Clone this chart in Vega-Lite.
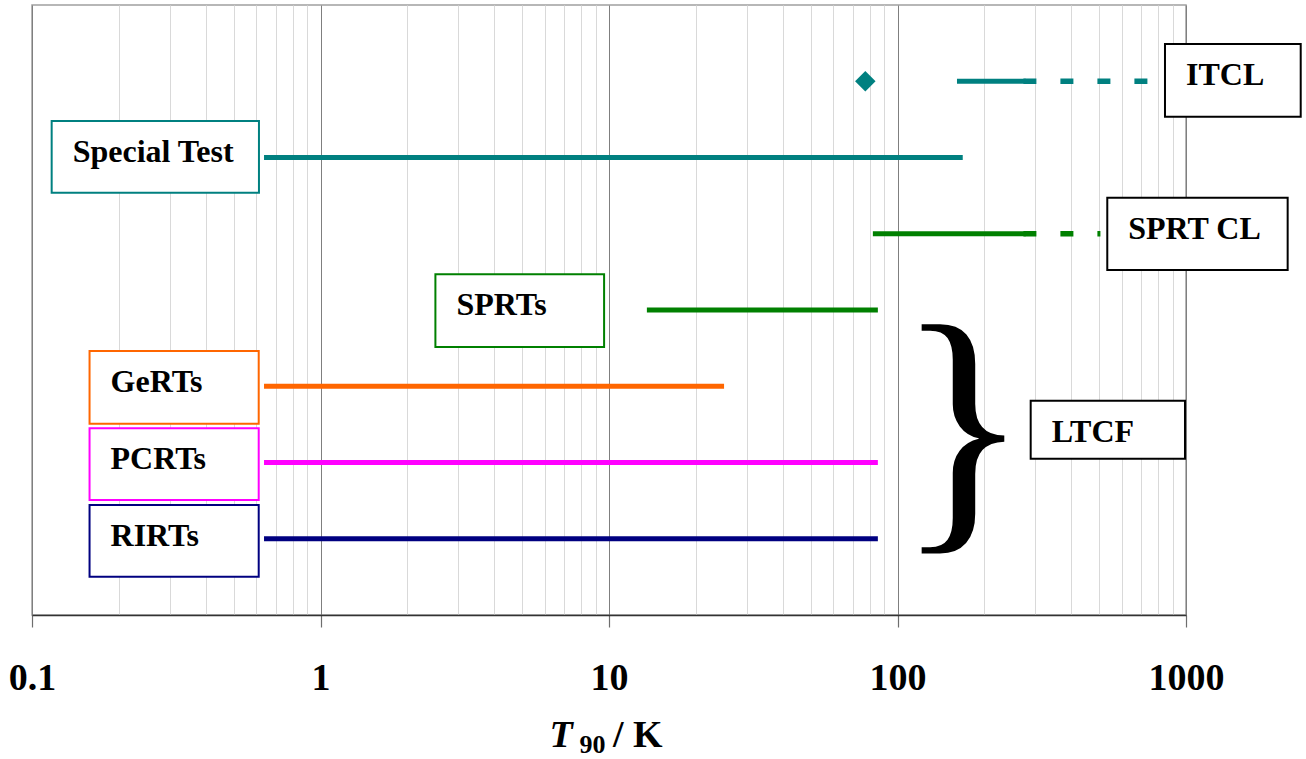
{
  "$schema": "https://vega.github.io/schema/vega-lite/v6.json",
  "width": 1154,
  "height": 610,
  "autosize": "none",
  "padding": {"left": 32, "top": 5, "right": 120, "bottom": 144},
  "background": "white",
  "config": {
    "view": {"stroke": "#a0a0a0", "strokeWidth": 1.5},
    "font": "Liberation Serif"
  },
  "datasets": {
    "spans": [
      {"series": "ITCL", "kind": "solid", "T": 164, "level": 7},
      {"series": "ITCL", "kind": "solid", "T": 234.3156, "level": 7},
      {"series": "ITCL", "kind": "solid", "T": 273.16, "level": 7},
      {"series": "ITCL", "kind": "dashed", "T": 273.16, "level": 7},
      {"series": "ITCL", "kind": "dashed", "T": 933.473, "level": 7},
      {"series": "Special Test", "kind": "solid", "T": 0.65, "level": 6},
      {"series": "Special Test", "kind": "solid", "T": 1.4, "level": 6},
      {"series": "Special Test", "kind": "solid", "T": 4.2, "level": 6},
      {"series": "Special Test", "kind": "solid", "T": 5, "level": 6},
      {"series": "Special Test", "kind": "solid", "T": 13.8033, "level": 6},
      {"series": "Special Test", "kind": "solid", "T": 20.27, "level": 6},
      {"series": "Special Test", "kind": "solid", "T": 24.5561, "level": 6},
      {"series": "Special Test", "kind": "solid", "T": 77.355, "level": 6},
      {"series": "Special Test", "kind": "solid", "T": 83.8058, "level": 6},
      {"series": "Special Test", "kind": "solid", "T": 165, "level": 6},
      {"series": "SPRT CL", "kind": "solid", "T": 83.8058, "level": 5},
      {"series": "SPRT CL", "kind": "solid", "T": 164, "level": 5},
      {"series": "SPRT CL", "kind": "solid", "T": 234.3156, "level": 5},
      {"series": "SPRT CL", "kind": "solid", "T": 273.16, "level": 5},
      {"series": "SPRT CL", "kind": "dashed", "T": 273.16, "level": 5},
      {"series": "SPRT CL", "kind": "dashed", "T": 505.078, "level": 5},
      {"series": "SPRTs", "kind": "solid", "T": 13.8033, "level": 4},
      {"series": "SPRTs", "kind": "solid", "T": 20.27, "level": 4},
      {"series": "SPRTs", "kind": "solid", "T": 24.5561, "level": 4},
      {"series": "SPRTs", "kind": "solid", "T": 77.355, "level": 4},
      {"series": "SPRTs", "kind": "solid", "T": 83.8058, "level": 4},
      {"series": "GeRTs", "kind": "solid", "T": 0.65, "level": 3},
      {"series": "GeRTs", "kind": "solid", "T": 1.4, "level": 3},
      {"series": "GeRTs", "kind": "solid", "T": 4.2, "level": 3},
      {"series": "GeRTs", "kind": "solid", "T": 5, "level": 3},
      {"series": "GeRTs", "kind": "solid", "T": 13.8033, "level": 3},
      {"series": "GeRTs", "kind": "solid", "T": 20.27, "level": 3},
      {"series": "GeRTs", "kind": "solid", "T": 24.5561, "level": 3},
      {"series": "PCRTs", "kind": "solid", "T": 0.65, "level": 2},
      {"series": "PCRTs", "kind": "solid", "T": 1.4, "level": 2},
      {"series": "PCRTs", "kind": "solid", "T": 4.2, "level": 2},
      {"series": "PCRTs", "kind": "solid", "T": 5, "level": 2},
      {"series": "PCRTs", "kind": "solid", "T": 13.8033, "level": 2},
      {"series": "PCRTs", "kind": "solid", "T": 20.27, "level": 2},
      {"series": "PCRTs", "kind": "solid", "T": 24.5561, "level": 2},
      {"series": "PCRTs", "kind": "solid", "T": 77.355, "level": 2},
      {"series": "PCRTs", "kind": "solid", "T": 83.8058, "level": 2},
      {"series": "RIRTs", "kind": "solid", "T": 0.65, "level": 1},
      {"series": "RIRTs", "kind": "solid", "T": 1.4, "level": 1},
      {"series": "RIRTs", "kind": "solid", "T": 4.2, "level": 1},
      {"series": "RIRTs", "kind": "solid", "T": 5, "level": 1},
      {"series": "RIRTs", "kind": "solid", "T": 13.8033, "level": 1},
      {"series": "RIRTs", "kind": "solid", "T": 20.27, "level": 1},
      {"series": "RIRTs", "kind": "solid", "T": 24.5561, "level": 1},
      {"series": "RIRTs", "kind": "solid", "T": 77.355, "level": 1},
      {"series": "RIRTs", "kind": "solid", "T": 83.8058, "level": 1}
    ],
    "points": [
      {"series": "ITCL", "T": 77.355, "level": 7}
    ],
    "frames": [
      {"label": "ITCL", "lo": 845.6, "hi": 2498, "top": 7.489, "bottom": 6.535},
      {"label": "Special Test", "lo": 0.117, "hi": 0.6119, "top": 6.479, "bottom": 5.538},
      {"label": "SPRT CL", "lo": 533.5, "hi": 2251, "top": 5.473, "bottom": 4.525},
      {"label": "SPRTs", "lo": 2.502, "hi": 9.616, "top": 4.468, "bottom": 3.515},
      {"label": "GeRTs", "lo": 0.1583, "hi": 0.6107, "top": 3.462, "bottom": 2.509},
      {"label": "PCRTs", "lo": 0.1583, "hi": 0.6107, "top": 2.449, "bottom": 1.508},
      {"label": "RIRTs", "lo": 0.1583, "hi": 0.6107, "top": 1.443, "bottom": 0.502},
      {"label": "LTCF", "lo": 289.5, "hi": 992, "top": 2.81, "bottom": 2.05}
    ],
    "brace": [
      {"glyph": "}", "T": 99.2, "level": 1.292}
    ],
    "axisTitle": [
      {"part": "T", "T": 10, "level": -1.73}
    ]
  },
  "layer": [
    {
      "data": {"name": "spans"},
      "transform": [{"filter": "datum.kind === 'solid'"}],
      "mark": {"type": "line", "strokeWidth": 5, "strokeCap": "square", "clip": false},
      "encoding": {
        "x": {
          "field": "T",
          "type": "quantitative",
          "scale": {"type": "log", "domain": [0.1, 1000], "nice": false},
          "axis": {
            "values": [0.1, 0.2, 0.3, 0.4, 0.5, 0.6, 0.7, 0.8, 0.9, 1, 2, 3, 4, 5, 6, 7, 8, 9, 10, 20, 30, 40, 50, 60, 70, 80, 90, 100, 200, 300, 400, 500, 600, 700, 800, 900, 1000],
            "format": "~g",
            "labelExpr": "indexof([0.1, 1, 10, 100, 1000], datum.value) >= 0 ? datum.label : ''",
            "title": null,
            "grid": true,
            "gridColor": {"condition": {"test": "indexof([0.1, 1, 10, 100, 1000], datum.value) >= 0", "value": "#7f7f7f"}, "value": "#d9d9d9"},
            "gridWidth": 1,
            "ticks": true,
            "tickSize": 12,
            "tickColor": "#6e6e6e",
            "tickWidth": 1.2,
            "tickOpacity": {"condition": {"test": "indexof([0.1, 1, 10, 100, 1000], datum.value) >= 0", "value": 1}, "value": 0},
            "domain": true,
            "domainColor": "#333333",
            "domainWidth": 1.5,
            "labelFont": "Liberation Serif",
            "labelFontWeight": "bold",
            "labelFontSize": 38,
            "labelColor": "black",
            "labelBaseline": "alphabetic",
            "labelPadding": 62,
            "labelFlush": false,
            "labelOverlap": false
          }
        },
        "y": {
          "field": "level",
          "type": "quantitative",
          "scale": {"domain": [0, 8], "nice": false, "zero": false},
          "axis": null
        },
        "color": {
          "field": "series",
          "type": "nominal",
          "scale": {
            "domain": ["ITCL", "Special Test", "SPRT CL", "SPRTs", "GeRTs", "PCRTs", "RIRTs"],
            "range": ["#008080", "#008080", "#008000", "#008000", "#ff6600", "#ff00ff", "#000080"]
          },
          "legend": null
        },
        "detail": {"field": "series"}
      }
    },
    {
      "data": {"name": "spans"},
      "transform": [{"filter": "datum.kind === 'dashed'"}],
      "mark": {"type": "line", "strokeWidth": 5.5, "strokeCap": "butt", "strokeDash": [13, 24], "clip": false},
      "encoding": {
        "x": {"field": "T", "type": "quantitative", "scale": {"type": "log", "domain": [0.1, 1000], "nice": false}},
        "y": {"field": "level", "type": "quantitative", "scale": {"domain": [0, 8], "nice": false, "zero": false}},
        "color": {"field": "series", "type": "nominal", "legend": null},
        "detail": {"field": "series"}
      }
    },
    {
      "data": {"name": "points"},
      "mark": {"type": "point", "shape": "diamond", "filled": true, "size": 420, "opacity": 1},
      "encoding": {
        "x": {"field": "T", "type": "quantitative", "scale": {"type": "log", "domain": [0.1, 1000], "nice": false}},
        "y": {"field": "level", "type": "quantitative", "scale": {"domain": [0, 8], "nice": false, "zero": false}},
        "color": {"field": "series", "type": "nominal", "legend": null}
      }
    },
    {
      "data": {"name": "frames"},
      "mark": {"type": "rect", "fill": "white", "strokeWidth": 2, "clip": false},
      "encoding": {
        "x": {"field": "lo", "type": "quantitative", "scale": {"type": "log", "domain": [0.1, 1000], "nice": false}},
        "x2": {"field": "hi"},
        "y": {"field": "top", "type": "quantitative", "scale": {"domain": [0, 8], "nice": false, "zero": false}},
        "y2": {"field": "bottom"},
        "stroke": {
          "field": "label",
          "type": "nominal",
          "scale": {
            "domain": ["ITCL", "Special Test", "SPRT CL", "SPRTs", "GeRTs", "PCRTs", "RIRTs", "LTCF"],
            "range": ["#000000", "#008080", "#000000", "#008000", "#ff6600", "#ff00ff", "#000080", "#000000"]
          },
          "legend": null
        }
      }
    },
    {
      "data": {"name": "frames"},
      "mark": {"type": "text", "align": "left", "baseline": "alphabetic", "dx": 21, "dy": 41, "font": "Liberation Serif", "fontWeight": "bold", "fontSize": 32, "color": "black", "clip": false},
      "encoding": {
        "x": {"field": "lo", "type": "quantitative", "scale": {"type": "log", "domain": [0.1, 1000], "nice": false}},
        "y": {"field": "top", "type": "quantitative", "scale": {"domain": [0, 8], "nice": false, "zero": false}},
        "text": {"field": "label"}
      }
    },
    {
      "data": {"name": "brace"},
      "mark": {"type": "text", "align": "left", "baseline": "alphabetic", "font": "Liberation Serif", "fontSize": 277, "color": "black", "clip": false},
      "encoding": {
        "x": {"field": "T", "type": "quantitative", "scale": {"type": "log", "domain": [0.1, 1000], "nice": false}},
        "y": {"field": "level", "type": "quantitative", "scale": {"domain": [0, 8], "nice": false, "zero": false}},
        "text": {"field": "glyph"}
      }
    },
    {
      "data": {"name": "axisTitle"},
      "mark": {"type": "text", "text": "T", "align": "left", "baseline": "alphabetic", "dx": -59.5, "font": "Liberation Serif", "fontStyle": "italic", "fontWeight": "bold", "fontSize": 38, "color": "black", "clip": false},
      "encoding": {
        "x": {"field": "T", "type": "quantitative", "scale": {"type": "log", "domain": [0.1, 1000], "nice": false}},
        "y": {"field": "level", "type": "quantitative", "scale": {"domain": [0, 8], "nice": false, "zero": false}}
      }
    },
    {
      "data": {"name": "axisTitle"},
      "mark": {"type": "text", "text": "90", "align": "left", "baseline": "alphabetic", "dx": -29.5, "dy": 6, "font": "Liberation Serif", "fontWeight": "bold", "fontSize": 26, "color": "black", "clip": false},
      "encoding": {
        "x": {"field": "T", "type": "quantitative", "scale": {"type": "log", "domain": [0.1, 1000], "nice": false}},
        "y": {"field": "level", "type": "quantitative", "scale": {"domain": [0, 8], "nice": false, "zero": false}}
      }
    },
    {
      "data": {"name": "axisTitle"},
      "mark": {"type": "text", "text": "/ K", "align": "left", "baseline": "alphabetic", "dx": 4, "font": "Liberation Serif", "fontWeight": "bold", "fontSize": 38, "color": "black", "clip": false},
      "encoding": {
        "x": {"field": "T", "type": "quantitative", "scale": {"type": "log", "domain": [0.1, 1000], "nice": false}},
        "y": {"field": "level", "type": "quantitative", "scale": {"domain": [0, 8], "nice": false, "zero": false}}
      }
    }
  ]
}
